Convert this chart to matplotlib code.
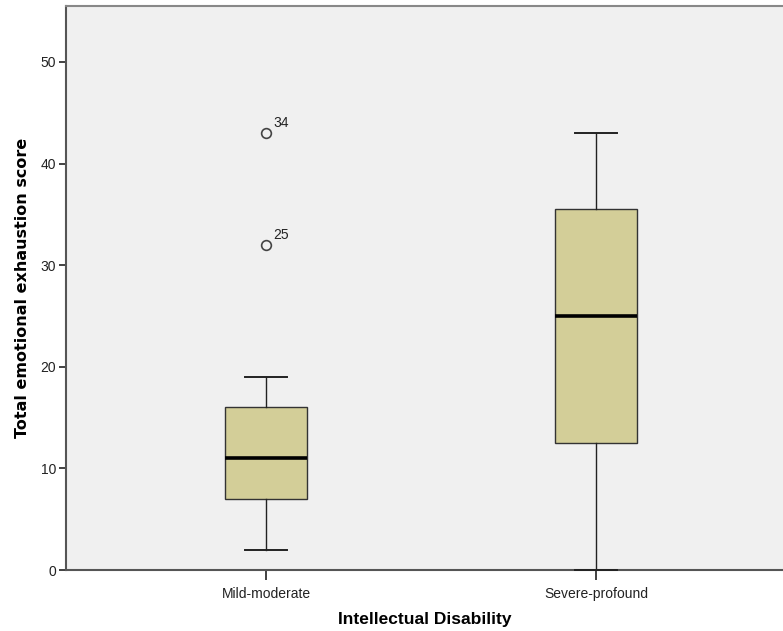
import matplotlib
matplotlib.use("Agg")
import matplotlib.pyplot as plt
from matplotlib import font_manager

# Group summary statistics
categories = ["Mild-moderate", "Severe-profound"]
whisker_low = [2, 0]
q1 = [7, 12.5]
median = [11, 25]
q3 = [16, 35.5]
whisker_high = [19, 43]
outliers = [[32, 43], []]
outlier_ids = [["25", "34"], []]

yticks = [0, 10, 20, 30, 40, 50]

names = {f.name for f in font_manager.fontManager.ttflist}
narrow = "Liberation Sans"
for cand in ["Liberation Sans Narrow", "DejaVu Sans Condensed"]:
    if cand in names:
        narrow = cand
        break

fig = plt.figure(figsize=(7.83, 6.31), dpi=100)
ax = fig.add_axes([66 / 783, 61 / 631, 1 - 66 / 783, 564 / 631])
ax.set_facecolor("#F0F0F0")

stats = []
for i, name in enumerate(categories):
    stats.append(dict(label=name, whislo=whisker_low[i], q1=q1[i], med=median[i],
                      q3=q3[i], whishi=whisker_high[i], fliers=outliers[i]))

positions = list(range(len(categories)))
parts = ax.bxp(stats, positions=positions, widths=0.248, patch_artist=True,
               boxprops=dict(facecolor="#D3CE98", edgecolor="#333333", linewidth=1.0),
               medianprops=dict(color="black", linewidth=2.6),
               whiskerprops=dict(color="#222222", linewidth=1.0),
               capprops=dict(color="#222222", linewidth=1.4),
               capwidths=0.125,
               flierprops=dict(marker="o", markersize=7, markerfacecolor="none",
                               markeredgecolor="#444444", markeredgewidth=1.2))
for cap in parts["caps"]:
    cap.set_zorder(5)
    cap.set_clip_on(False)

for i, ids in enumerate(outlier_ids):
    for val, lab in zip(outliers[i], ids):
        ax.annotate(lab, (positions[i], val), xytext=(5, 4), textcoords="offset points",
                    fontsize=10, family=narrow, color="#222222")

ax.set_xlim(-200 / 330, 517 / 330)
ax.set_ylim(0, 55.5)
ax.set_yticks(yticks)
ax.set_xticks(positions)
ax.set_xticklabels(categories)

for lab in ax.get_xticklabels() + ax.get_yticklabels():
    lab.set_family(narrow)
    lab.set_fontsize(10)
    lab.set_color("#222222")

ax.tick_params(axis="y", length=5, width=1.3, color="#333333", pad=2)
ax.tick_params(axis="x", length=7, width=1.3, color="#333333", pad=5)

ax.spines["right"].set_visible(False)
ax.spines["top"].set_color("#888888")
ax.spines["top"].set_linewidth(1.5)
ax.spines["left"].set_color("#555555")
ax.spines["left"].set_linewidth(1.5)
ax.spines["bottom"].set_color("#555555")
ax.spines["bottom"].set_linewidth(1.5)

ax.set_xlabel("Intellectual Disability", fontsize=12.5, fontweight="bold",
              family=narrow, labelpad=8)
ax.set_ylabel("Total emotional exhaustion score", fontsize=11.5, fontweight="bold",
              family="DejaVu Sans", labelpad=8)

fig.savefig("out.png", dpi=100)
